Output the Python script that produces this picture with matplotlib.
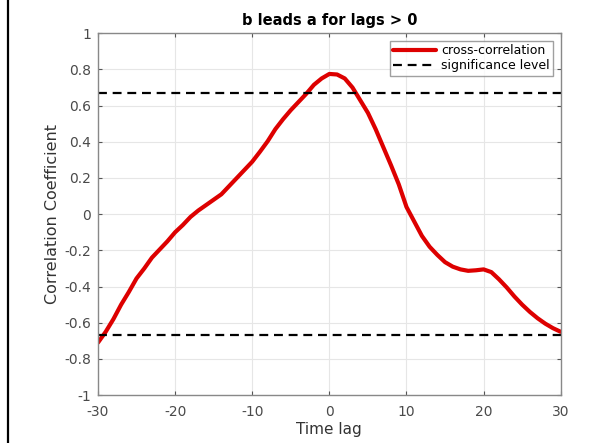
import matplotlib

matplotlib.use("Agg")
import matplotlib.pyplot as plt
from matplotlib.lines import Line2D

# cross-correlation, one value per integer lag
lags = list(range(-30, 31))
xcorr = [
    -0.71, -0.65, -0.58, -0.50, -0.43, -0.355, -0.30, -0.24, -0.195, -0.15,
    -0.10, -0.06, -0.015, 0.02, 0.05, 0.08, 0.11, 0.155, 0.20, 0.245,
    0.29, 0.345, 0.403, 0.47, 0.525, 0.575, 0.62, 0.665, 0.715, 0.75,
    0.775, 0.772, 0.75, 0.70, 0.63, 0.56, 0.47, 0.37, 0.27, 0.165,
    0.04, -0.04, -0.12, -0.18, -0.225, -0.265, -0.29, -0.305, -0.313, -0.31,
    -0.305, -0.32, -0.36, -0.405, -0.455, -0.50, -0.54, -0.575, -0.605, -0.63,
    -0.65,
]
sig_level = 0.67

x_ticks = [-30, -20, -10, 0, 10, 20, 30]
y_ticks = [-1, -0.8, -0.6, -0.4, -0.2, 0, 0.2, 0.4, 0.6, 0.8, 1]
y_tick_labels = ["-1", "-0.8", "-0.6", "-0.4", "-0.2", "0", "0.2", "0.4", "0.6", "0.8", "1"]

plt.rcParams["font.family"] = ["DejaVu Sans"]
plt.rcParams["axes.unicode_minus"] = False

fig = plt.figure(figsize=(6.01, 4.43), dpi=100)
ax = fig.add_axes([0.163, 0.108, 0.770, 0.817])

ax.plot(lags, xcorr, color="#dd0000", linewidth=3, label="cross-correlation",
        solid_capstyle="round", solid_joinstyle="round")
ax.axhline(sig_level, color="black", linewidth=1.6, dashes=(4, 2.6),
           label="significance level")
ax.axhline(-sig_level, color="black", linewidth=1.6, dashes=(4, 2.6))

ax.set_xlim(-30, 30)
ax.set_ylim(-1, 1)
ax.set_xticks(x_ticks)
ax.set_yticks(y_ticks)
ax.set_yticklabels(y_tick_labels)
ax.grid(True, color="#e6e6e6", linewidth=0.8)
ax.set_axisbelow(True)

ax.tick_params(direction="in", length=3, top=True, right=True,
               labelsize=10, colors="#555555", labelcolor="#4a4a4a")
ax.tick_params(axis="y", pad=5)
ax.tick_params(axis="x", pad=7)
for s in ax.spines.values():
    s.set_color("#888888")
    s.set_linewidth(1.0)

ax.set_title("b leads a for lags > 0", fontsize=10.5, fontweight="bold", pad=6)
ax.set_xlabel("Time lag", fontsize=11, color="#333333", labelpad=2)
ax.set_ylabel("Correlation Coefficient", fontsize=11.5, color="#333333", labelpad=3)

leg = ax.legend(loc="upper right", fontsize=9, frameon=True, fancybox=False,
                borderpad=0.3, handlelength=3.4, handletextpad=0.4,
                labelspacing=0.15, borderaxespad=0.6)
leg.get_frame().set_edgecolor("#888888")
leg.get_frame().set_linewidth(1.0)

# black rule down the left edge of the screenshot
fig.add_artist(Line2D([7.5 / 601, 7.5 / 601], [0, 1], color="black", linewidth=1.6,
                      transform=fig.transFigure))

fig.savefig("out.png", dpi=100)
